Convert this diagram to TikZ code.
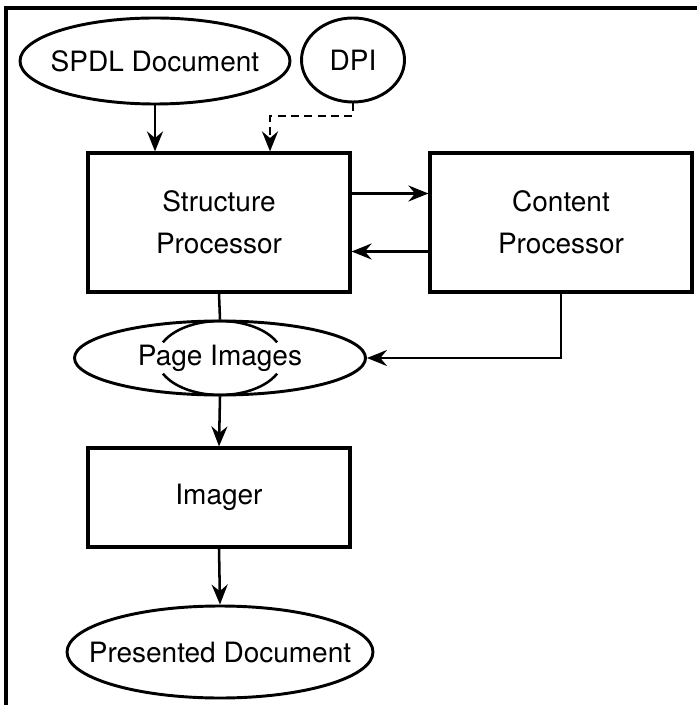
\documentclass[tikz,border=0pt]{standalone}
\usepackage{fontspec}
\setmainfont{TeX Gyre Heros}
\usetikzlibrary{arrows.meta,shapes.geometric}
\begin{document}
\begin{tikzpicture}[x=0.75pt,y=-0.75pt,
  line width=1.9pt,
  every node/.style={font=\fontsize{21pt}{31.5pt}\selectfont, inner sep=0pt},
  blob/.style={draw, ellipse, line width=2.2pt},
  procbox/.style={draw, rectangle, align=center, line width=2.4pt},
  arr/.style={-{Stealth[length=15pt,width=12pt,inset=5pt]}},
  frameline/.style={line width=2.3pt}
]
\useasboundingbox (0,0) rectangle (697,705);

% frame along the top and left edges
\draw[frameline] (6,705) -- (6,8) -- (697,8);

% inputs (labels in zero-width boxes so the ellipse keeps its set size)
\node[blob, minimum width=270*0.75pt, minimum height=86*0.75pt] (spdl) at (155,61) {\makebox[0pt]{SPDL Document}};
\node[blob, minimum width=103*0.75pt, minimum height=84*0.75pt] (dpi) at (353,60) {\makebox[0pt]{DPI}};

% processors
\node[procbox, minimum width=262*0.75pt, minimum height=139*0.75pt] (sp) at (219,222.5) {Structure\\Processor};
\node[procbox, minimum width=262*0.75pt, minimum height=139*0.75pt] (cp) at (561,222.5) {Content\\Processor};

% intermediate page images
\node[blob, minimum width=291*0.75pt, minimum height=74*0.75pt] (pi) at (220,358) {\makebox[0pt]{Page Images}};
\draw (pi.center) ++(25:47.25pt and 27.75pt)
  arc[start angle=25, end angle=155, x radius=47.25pt, y radius=27.75pt];
\draw (pi.center) ++(205:47.25pt and 27.75pt)
  arc[start angle=205, end angle=335, x radius=47.25pt, y radius=27.75pt];

% output stage
\node[procbox, minimum width=262*0.75pt, minimum height=99*0.75pt] (im) at (219,497.5) {Imager};
\node[blob, minimum width=306*0.75pt, minimum height=92*0.75pt] (pd) at (220,652) {\makebox[0pt]{Presented Document}};

% connectors
\coordinate (dpibend) at (270,116);

\draw[arr] (spdl.south) -- (spdl.south |- sp.north);
\draw[arr, dash pattern=on 6pt off 4pt] (dpi.south) |- (dpibend) -- (dpibend |- sp.north);
\draw[arr] ([yshift=21.75pt]sp.east) -- ([yshift=21.75pt]cp.west);
\draw[arr] ([yshift=-21.75pt]cp.west) -- ([yshift=-21.75pt]sp.east);
\draw (sp.south) -- (pi.north);
\draw[arr] (cp.south) |- (pi.east);
\draw[arr] (pi.south) -- (im.north);
\draw[arr] (im.south) -- (pd.north);
\end{tikzpicture}
\end{document}
